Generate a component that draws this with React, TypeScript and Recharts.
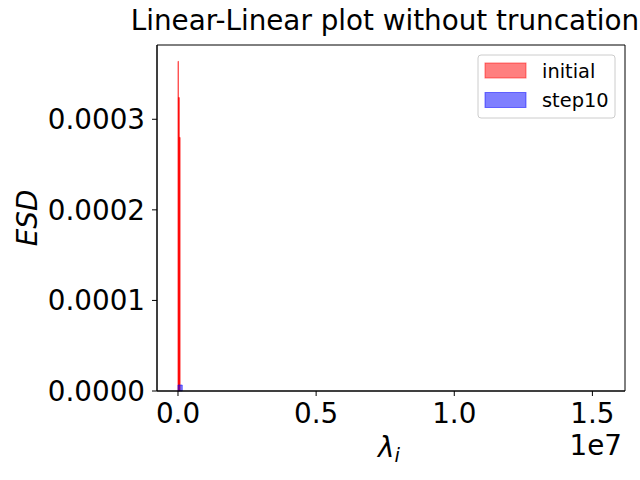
import React from 'react';
import { ComposedChart, XAxis, YAxis, ReferenceArea, Scatter } from 'recharts';

// histogram bins (density)
const initialEdges = [0, 15000, 30000, 45000, 60000, 75000];
const initialDensity = [0.000364, 0.000324, 0.000324, 0.00028, 0.00028];
const step10Edges = [0, 154000];
const step10Density = [0.0000066];

const seriesNames = ['initial', 'step10'];
const xTicks = [0, 5e6, 1e7, 1.5e7];
const yTicks = [0, 0.0001, 0.0002, 0.0003];

const FONT = 'DejaVu Sans';
const xDomain = [-0.76e6, 16.18e6];
const yDomain = [0, 0.000382];

const toBins = (edges: number[], dens: number[]) =>
  dens.map((d, i) => ({ x1: edges[i], x2: edges[i + 1], y: d }));

const initialBins = toBins(initialEdges, initialDensity);
const step10Bins = toBins(step10Edges, step10Density);
// anchor points so the axes have something to scale
const anchorPoints = [...initialBins, ...step10Bins].map((b) => ({ x: b.x1, y: b.y }));

const tickStyle = { fill: '#000', fontSize: 27.8, fontFamily: FONT };

export default function App() {
  return (
    <div style={{ position: 'absolute', left: 0, top: 0, width: 640, height: 480, background: '#fff' }}>
      <ComposedChart width={640} height={480} margin={{ top: 45, right: 15, bottom: 0, left: 0 }}>
        <XAxis
          dataKey="x"
          type="number"
          domain={xDomain}
          ticks={xTicks}
          allowDataOverflow
          height={89}
          tickSize={5}
          tickMargin={7}
          stroke="#000"
          tick={tickStyle}
          tickFormatter={(v: number) => (v / 1e7).toFixed(1)}
        />
        <YAxis
          dataKey="y"
          type="number"
          domain={yDomain}
          ticks={yTicks}
          allowDataOverflow
          width={157}
          tickSize={5}
          tickMargin={7}
          stroke="#000"
          tick={tickStyle}
          tickFormatter={(v: number) => v.toFixed(4)}
        />
        <Scatter data={anchorPoints} dataKey="y" shape={() => null} isAnimationActive={false} />
        {initialBins.map((b, i) => (
          <ReferenceArea
            key={`ini-${i}`}
            x1={b.x1}
            x2={b.x2}
            y1={0}
            y2={b.y}
            fill="red"
            fillOpacity={0.5}
            stroke="red"
            strokeOpacity={0.5}
            strokeWidth={1}
          />
        ))}
        {step10Bins.map((b, i) => (
          <ReferenceArea
            key={`s10-${i}`}
            x1={b.x1}
            x2={b.x2}
            y1={0}
            y2={b.y}
            fill="blue"
            fillOpacity={0.5}
            stroke="blue"
            strokeOpacity={0.5}
            strokeWidth={1}
          />
        ))}
        {/* axes frame (top and right spines) */}
        <ReferenceArea x1={xDomain[0]} x2={xDomain[1]} y1={yDomain[0]} y2={yDomain[1]} fill="none" stroke="#000" strokeWidth={1} />
      </ComposedChart>
      <svg width={640} height={480} style={{ position: 'absolute', left: 0, top: 0, pointerEvents: 'none' }} fontFamily={FONT}>
        <text x={385} y={30} textAnchor="middle" fontSize={27.8} fill="#000">
          Linear-Linear plot without truncation
        </text>
        <text x={37} y={218} transform="rotate(-90, 37, 218)" textAnchor="middle" fontSize={27.8} fontStyle="italic" fill="#000">
          ESD
        </text>
        <text x={378} y={457} fontSize={27.8} fontStyle="italic" fill="#000">
          λ<tspan fontSize={19.5} dy={5}>i</tspan>
        </text>
        <text x={622} y={455} textAnchor="end" fontSize={27.8} fill="#000">1e7</text>
        <rect x={478} y={55} width={137} height={63} rx={3} fill="#fff" fillOpacity={0.8} stroke="#cccccc" />
        <rect x={485} y={63} width={41} height={15} fill="red" fillOpacity={0.5} stroke="red" strokeOpacity={0.5} />
        <rect x={485} y={92.5} width={41} height={15} fill="blue" fillOpacity={0.5} stroke="blue" strokeOpacity={0.5} />
        <text x={542} y={78} fontSize={19.4} fill="#000">{seriesNames[0]}</text>
        <text x={542} y={107} fontSize={19.4} fill="#000">{seriesNames[1]}</text>
      </svg>
    </div>
  );
}
